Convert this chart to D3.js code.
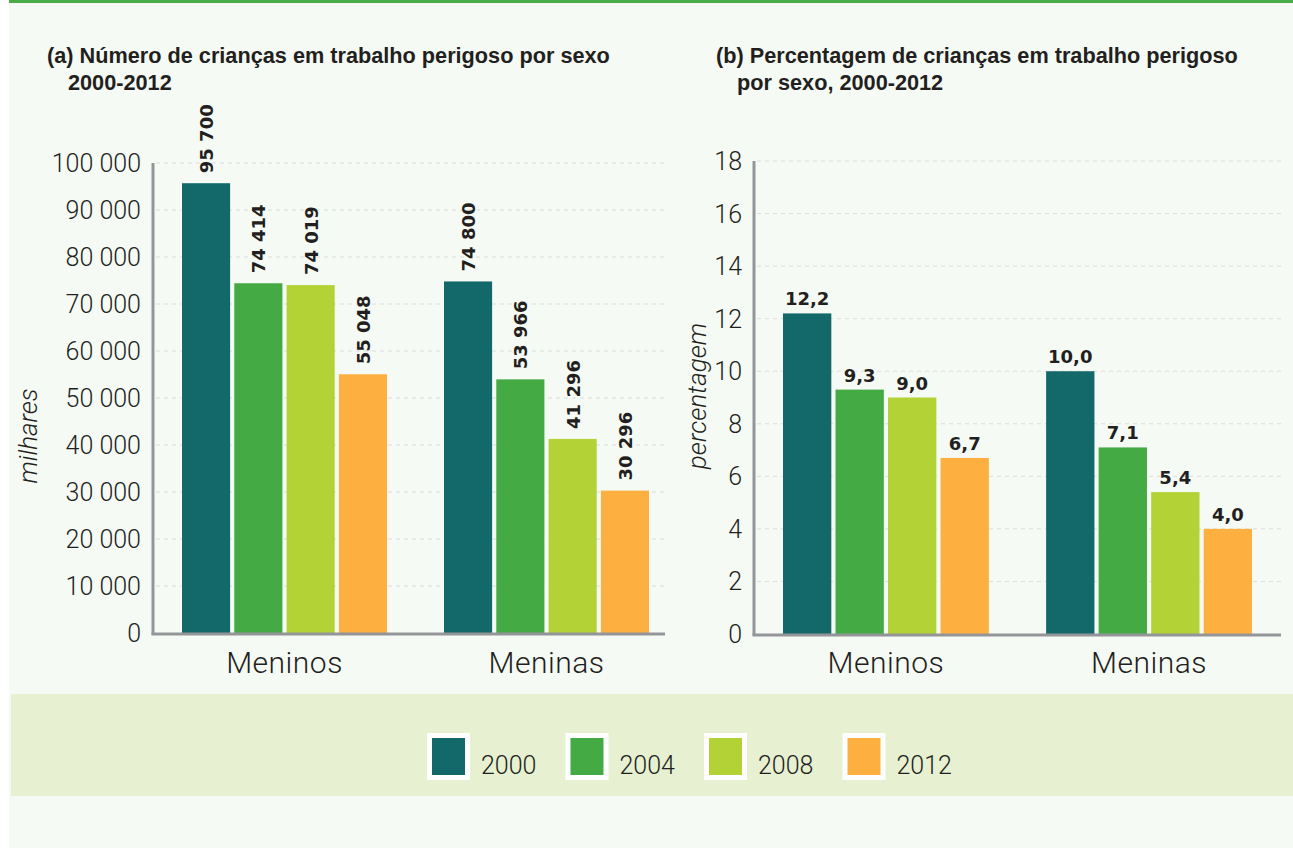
<!DOCTYPE html>
<html>
<head>
<meta charset="utf-8">
<script src="https://cdn.jsdelivr.net/npm/d3@7"></script>
<style>
  body { margin: 0; background: #fff; }
  svg { display: block; }
</style>
</head>
<body>
<div id="chart"></div>
<script>
const sexes = ["Meninos", "Meninas"];
const years = ["2000", "2004", "2008", "2012"];
const yearColors = ["#13696a", "#43aa44", "#b2d235", "#fdb040"];

// milhares
const countValues = {
    "Meninos": [95700, 74414, 74019, 55048],
    "Meninas": [74800, 53966, 41296, 30296]
};
// percentagem
const pctValues = {
    "Meninos": [12.2, 9.3, 9.0, 6.7],
    "Meninas": [10.0, 7.1, 5.4, 4.0]
};

const countTicks = [0, 10000, 20000, 30000, 40000, 50000, 60000, 70000, 80000, 90000, 100000];
const pctTicks = [0, 2, 4, 6, 8, 10, 12, 14, 16, 18];

const pt = d3.formatLocale({ decimal: ",", thousands: " ", grouping: [3], currency: ["", ""] });
const fmtCount = pt.format(",d");
const fmtPct = pt.format(".1f");

const W = 1293, H = 848;
const svg = d3.select("#chart").append("svg")
    .attr("width", W)
    .attr("height", H);

// page background
svg.append("rect").attr("x", 9).attr("y", 0).attr("width", W - 9).attr("height", H).attr("fill", "#f6faf4");
svg.append("rect").attr("x", 9).attr("y", 0).attr("width", W - 9).attr("height", 3).attr("fill", "#4aab4a");
svg.append("rect").attr("x", 11).attr("y", 694).attr("width", W - 11).attr("height", 102).attr("fill", "#e7f1d1");

const color = d3.scaleOrdinal().domain(years).range(yearColors);

function drawPanel(opts) {
    const g = svg.append("g");
    const y = d3.scaleLinear().domain([0, opts.max]).range([opts.y0, opts.yTop]);
    const x0 = d3.scaleBand().domain(sexes).range(opts.barRange).paddingInner(0.2176).paddingOuter(0);
    const x1 = d3.scaleBand().domain(years).range([0, x0.bandwidth()]).paddingInner(0.08);

    // grid
    g.selectAll("line.grid")
        .data(opts.ticks.filter(t => t > 0))
        .enter().append("line")
        .attr("x1", opts.axisX + 3).attr("x2", opts.axisEnd)
        .attr("y1", d => y(d)).attr("y2", d => y(d))
        .attr("stroke", "#dcdcdc").attr("stroke-dasharray", "4,4");

    // y tick labels
    g.selectAll("text.tick")
        .data(opts.ticks)
        .enter().append("text")
        .attr("x", opts.axisX - 12)
        .attr("y", d => y(d))
        .attr("dy", "0.36em")
        .attr("text-anchor", "end")
        .style("font-family", "Roboto, sans-serif")
        .style("font-weight", 300)
        .style("font-size", "25px")
        .attr("fill", "#231f20")
        .text(opts.tickFmt);

    // bars
    const groups = g.selectAll("g.grp")
        .data(sexes)
        .enter().append("g")
        .attr("transform", d => `translate(${x0(d)},0)`);

    groups.selectAll("rect")
        .data(s => opts.values[s].map((v, i) => ({ year: years[i], value: v })))
        .enter().append("rect")
        .attr("x", d => x1(d.year))
        .attr("y", d => y(d.value))
        .attr("width", x1.bandwidth())
        .attr("height", d => y(0) - y(d.value))
        .attr("fill", d => color(d.year));

    // value labels
    if (opts.rotated) {
        groups.selectAll("text.val")
            .data(s => opts.values[s].map((v, i) => ({ year: years[i], value: v })))
            .enter().append("text")
            .attr("transform", d => `translate(${x1(d.year) + x1.bandwidth() / 2 + 7},${y(d.value) - 10}) rotate(-90)`)
            .attr("text-anchor", "start")
            .style("font-family", "DejaVu Sans, sans-serif")
            .style("font-weight", "bold")
            .style("font-size", "18px")
            .attr("fill", "#231f20")
            .text(d => opts.valFmt(d.value));
    } else {
        groups.selectAll("text.val")
            .data(s => opts.values[s].map((v, i) => ({ year: years[i], value: v })))
            .enter().append("text")
            .attr("x", d => x1(d.year) + x1.bandwidth() / 2)
            .attr("y", d => y(d.value) - 8)
            .attr("text-anchor", "middle")
            .style("font-family", "DejaVu Sans, sans-serif")
            .style("font-weight", "bold")
            .style("font-size", "18px")
            .attr("fill", "#231f20")
            .text(d => opts.valFmt(d.value));
    }

    // axes lines
    g.append("line")
        .attr("x1", opts.axisX).attr("x2", opts.axisX)
        .attr("y1", opts.yTop).attr("y2", opts.y0 + 1.5)
        .attr("stroke", "#939598").attr("stroke-width", 3);
    g.append("line")
        .attr("x1", opts.axisX - 1.5).attr("x2", opts.axisEnd)
        .attr("y1", opts.y0 + 1).attr("y2", opts.y0 + 1)
        .attr("stroke", "#939598").attr("stroke-width", 3);

    // category labels
    g.selectAll("text.cat")
        .data(sexes)
        .enter().append("text")
        .attr("x", d => x0(d) + x0.bandwidth() / 2)
        .attr("y", 673)
        .attr("text-anchor", "middle")
        .style("font-family", "Roboto, sans-serif")
        .style("font-weight", 300)
        .style("font-size", "30px")
        .style("letter-spacing", "0.5px")
        .attr("fill", "#231f20")
        .text(d => d);

    // y title
    g.append("text")
        .attr("transform", `translate(${opts.yTitleX},${opts.yTitleY}) rotate(-90)`)
        .attr("text-anchor", "middle")
        .style("font-family", "Roboto, sans-serif")
        .style("font-weight", 300)
        .style("font-style", "italic")
        .style("font-size", "26px")
        .attr("fill", "#231f20")
        .text(opts.yTitle);

    // panel title
    const t = g.append("text")
        .style("font-family", "'Liberation Sans Narrow', 'Liberation Sans', sans-serif")
        .style("font-weight", "bold")
        .style("font-size", "21.7px")
        .attr("fill", "#231f20");
    t.append("tspan").attr("x", opts.titleX).attr("y", 63).text(opts.title[0]);
    t.append("tspan").attr("x", opts.titleX + 21).attr("y", 90).text(opts.title[1]);
}

drawPanel({
    values: countValues,
    max: 100000,
    ticks: countTicks,
    tickFmt: fmtCount,
    valFmt: fmtCount,
    rotated: true,
    yTop: 163,
    y0: 633,
    axisX: 153,
    axisEnd: 665,
    barRange: [182, 649],
    yTitle: "milhares",
    yTitleX: 37,
    yTitleY: 436,
    titleX: 47,
    title: ["(a) Número de crianças em trabalho perigoso por sexo", "2000-2012"]
});

drawPanel({
    values: pctValues,
    max: 18,
    ticks: pctTicks,
    tickFmt: d => d,
    valFmt: fmtPct,
    rotated: false,
    yTop: 161,
    y0: 634,
    axisX: 754,
    axisEnd: 1281,
    barRange: [783, 1252],
    yTitle: "percentagem",
    yTitleX: 706,
    yTitleY: 396,
    titleX: 716,
    title: ["(b) Percentagem de crianças em trabalho perigoso", "por sexo, 2000-2012"]
});

// legend
const legend = svg.append("g");
const lx = d3.scaleBand().domain(years).range([427, 427 + 138.5 * 4]);
const item = legend.selectAll("g")
    .data(years)
    .enter().append("g")
    .attr("transform", d => `translate(${lx(d)},733)`);
item.append("rect")
    .attr("width", 43).attr("height", 47)
    .attr("fill", "#fff");
item.append("rect")
    .attr("x", 5).attr("y", 5)
    .attr("width", 33).attr("height", 37)
    .attr("fill", d => color(d));
item.append("text")
    .attr("x", 54).attr("y", 41)
    .style("font-family", "Roboto, sans-serif")
    .style("font-weight", 300)
    .style("font-size", "25px")
    .attr("fill", "#231f20")
    .text(d => d);
</script>
</body>
</html>
